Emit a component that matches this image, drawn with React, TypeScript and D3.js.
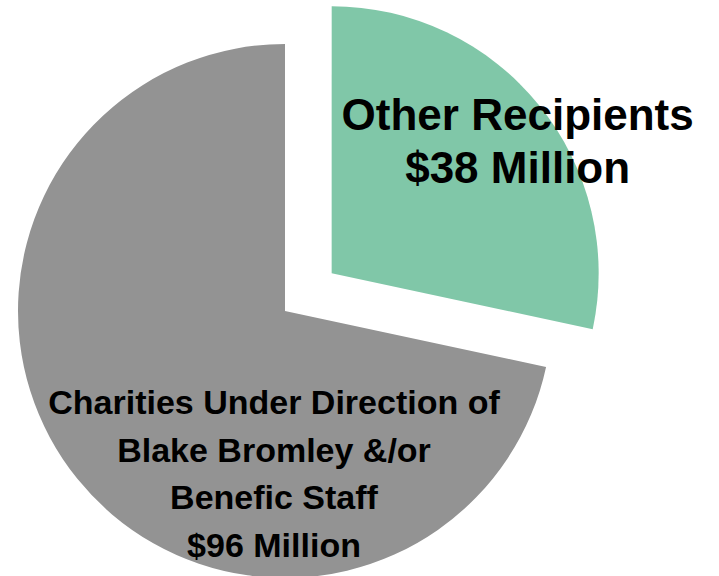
import React from 'react';
import * as d3 from 'd3';

const labels = ['Other Recipients', 'Charities Under Direction of Blake Bromley &/or Benefic Staff'];
const values = [38, 96];
const labelLines = [
  ['Other Recipients', '$38 Million'],
  ['Charities Under Direction of', 'Blake Bromley &/or', 'Benefic Staff', '$96 Million'],
];
const colors = ['#80c7a8', '#939393'];

const WIDTH = 719;
const HEIGHT = 576;
const CX = 285;
const CY = 311;
const RADIUS = 267;
const EXPLODE = [60, 0];
// label block anchor (centre x, first baseline y) relative to slice apex
const LABEL_ANCHOR = [
  { dx: 186, dy: -143, size: 44, lh: 53 },
  { dx: -11, dy: 103, size: 34, lh: 47.5 },
];

const App: React.FC = () => {
  const pie = d3.pie<number>().sort(null).startAngle(0).endAngle(2 * Math.PI);
  const arcs = pie(values);
  const arc = d3.arc<d3.PieArcDatum<number>>().innerRadius(0).outerRadius(RADIUS);

  return (
    <svg width={WIDTH} height={HEIGHT} style={{ position: 'absolute', left: 0, top: 0, display: 'block' }}>
      <rect width={WIDTH} height={HEIGHT} fill="#ffffff" />
      {arcs.map((a, i) => {
        const mid = (a.startAngle + a.endAngle) / 2;
        const ox = CX + EXPLODE[i] * Math.sin(mid);
        const oy = CY - EXPLODE[i] * Math.cos(mid);
        const la = LABEL_ANCHOR[i];
        return (
          <g key={labels[i]} transform={`translate(${ox},${oy})`}>
            <path d={arc(a) || ''} fill={colors[i]} />
            <text
              textAnchor="middle"
              fontFamily="'Liberation Sans', Arial, sans-serif"
              fontWeight="bold"
              fontSize={la.size}
              fill="#000"
            >
              {labelLines[i].map((line, j) => (
                <tspan key={j} x={la.dx} y={la.dy + j * la.lh}>
                  {line}
                </tspan>
              ))}
            </text>
          </g>
        );
      })}
    </svg>
  );
};

export default App;
